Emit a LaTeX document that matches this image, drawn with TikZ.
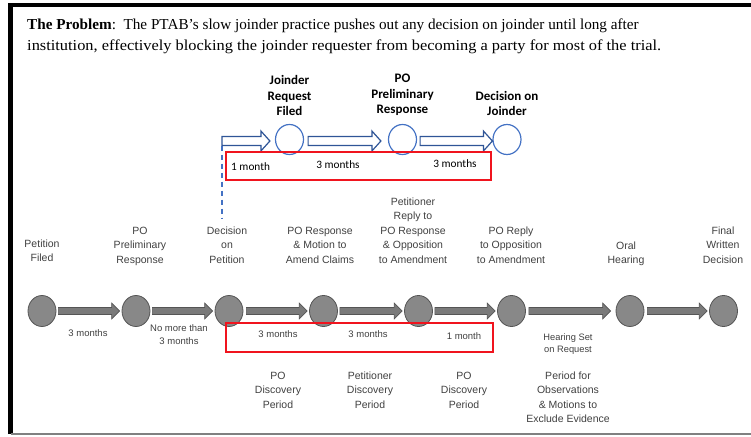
\documentclass[tikz,border=0pt]{standalone}
\usepackage{fontspec}
\setmainfont{Liberation Serif}
\newfontfamily\arialf{Liberation Sans}
\newfontfamily\calibrif{Carlito}
\usepackage{graphicx}
\usepackage{tikz}
\usetikzlibrary{shapes.geometric,calc,positioning}

\definecolor{lblgray}{RGB}{64,64,64}
\definecolor{evtfill}{RGB}{136,136,136}
\definecolor{evtedge}{RGB}{85,85,85}
\definecolor{arrfill}{RGB}{122,122,122}
\definecolor{jblue}{RGB}{47,85,151}
\definecolor{jcirc}{RGB}{68,114,196}
\definecolor{boxred}{RGB}{240,20,30}

% block arrow: style, start, tip, shaft half, head half, head length
\newcommand{\blockarrow}[6]{%
  \draw[#1] let \p1=(#2), \p2=(#3) in
    (\x1,\y1+#4) -- (\x2-#6,\y1+#4) -- (\x2-#6,\y1+#5) -- (\x2,\y1)
    -- (\x2-#6,\y1-#5) -- (\x2-#6,\y1-#4) -- (\x1,\y1-#4) -- cycle;}

\begin{document}
\begin{tikzpicture}[x=1pt, y=-1pt,
  ttl/.style = {inner sep=0pt, anchor=base west, font=\fontsize{15.2}{20}\selectfont},
  evt/.style = {ellipse, draw=evtedge, fill=evtfill, line width=0.8pt, minimum width=28pt, minimum height=31pt, inner sep=0pt},
  jnt/.style = {ellipse, draw=jcirc, fill=white, line width=1.2pt, minimum width=28pt, minimum height=30pt, inner sep=0pt},
  garr/.style = {draw=evtedge, fill=arrfill, line width=0.6pt},
  barr/.style = {draw=jblue, fill=white, line width=1.2pt},
  lbl/.style = {align=center, inner sep=0pt, anchor=north, text=lblgray, font=\arialf\fontsize{10.5}{14.5}\selectfont},
  per/.style = {lbl, font=\arialf\fontsize{9.5}{13}\selectfont},
  jlbl/.style = {align=center, inner sep=0pt, font=\calibrif\bfseries\fontsize{13}{15.5}\selectfont},
  mon/.style = {inner sep=0pt, anchor=base, font=\calibrif\fontsize{11.3}{13}\selectfont},
  redbox/.style = {draw=boxred, line width=2pt}]
  \useasboundingbox (0,0) rectangle (751,436);

  % frame
  \draw[line width=4.5pt] (10.5,434) -- (10.5,5) -- (760,5);
  \draw[gray, line width=1.5pt] (10.5,434) -- (760,434);

  % title
  \node[ttl] (ttl1) at (27,30) {\textbf{The Problem}:\ \ The PTAB’s slow joinder practice pushes out any decision on joinder until long after};
  \node[ttl] (ttl2) at (27,50) {\scalebox{1.078}[1]{institution, effectively blocking the joinder requester from becoming a party for most of the trial.}};

  % joinder track
  \node[jnt] (jrf) at (289.5,139.5) {};
  \node[jnt] (jppr) at (402.5,139.5) {};
  \node[jnt] (doj) at (507,139.5) {};
  \node[jlbl, above=8pt of jrf] (jrfl) {Joinder\\Request\\Filed};
  \node[jlbl, above=8pt of jppr] (jpprl) {PO\\Preliminary\\Response};
  \node[jlbl, above=8pt of doj] (dojl) {Decision on\\Joinder};
  \coordinate (jstart) at (222,141);
  \coordinate (dtop) at (222,145.5);
  \coordinate (dbot) at (222,218);
  \draw[jcirc, line width=1.2pt, dash pattern=on 5pt off 4pt] (dtop) -- (dbot);
  \blockarrow{barr}{jstart}{$(jrf.west)+(-5,0)$}{4.5pt}{10pt}{9pt}
  \blockarrow{barr}{$(jrf.east)+(4,1.5)$}{$(jppr.west)+(-7,0)$}{4.5pt}{10pt}{9pt}
  \blockarrow{barr}{$(jppr.east)+(3,1.5)$}{$(doj.west)+(0,0)$}{4.5pt}{10pt}{9pt}
  \draw[redbox] (226,152) rectangle (491,180);
  \node[mon, anchor=base west] (m1) at (231,170.5) {1 month};
  \node[mon] (m2) at (338,168.5) {3 months};
  \node[mon] (m3) at (455,167.5) {3 months};

  % trial track
  \node[evt] (pf) at (42,311) {};
  \node[evt] (ppr) at (136,311) {};
  \node[evt] (dop) at (229,311) {};
  \node[evt] (por) at (323.5,311) {};
  \node[evt] (prp) at (418.5,311) {};
  \node[evt] (porep) at (511.5,311) {};
  \node[evt] (oh) at (630,311) {};
  \node[evt] (fwd) at (723.5,311) {};
  \blockarrow{garr}{$(pf.east)+(2,0)$}{$(ppr.west)+(-2,0)$}{3.5pt}{8pt}{8pt}
  \blockarrow{garr}{$(ppr.east)+(2,0)$}{$(dop.west)+(-2,0)$}{3.5pt}{8pt}{8pt}
  \blockarrow{garr}{$(dop.east)+(3,0)$}{$(por.west)+(-2,0)$}{3.5pt}{8pt}{8pt}
  \blockarrow{garr}{$(por.east)+(2,0)$}{$(prp.west)+(-2,0)$}{3.5pt}{8pt}{8pt}
  \blockarrow{garr}{$(prp.east)+(2,0)$}{$(porep.west)+(-2,0)$}{3.5pt}{8pt}{8pt}
  \blockarrow{garr}{$(porep.east)+(3,0)$}{$(oh.west)+(-5,0)$}{3.5pt}{8pt}{8pt}
  \blockarrow{garr}{$(oh.east)+(3,0)$}{$(fwd.west)+(-2,0)$}{3.5pt}{8pt}{8pt}

  \node[lbl] (pfl) at (42,239.5) {Petition\\Filed};
  \node[lbl] (pprl) at (140,226.5) {PO\\Preliminary\\Response};
  \node[lbl] (dopl) at (227,226.5) {Decision\\on\\Petition};
  \node[lbl] (porl) at (320,226.5) {PO Response\\\& Motion to\\Amend Claims};
  \node[lbl] (prpl) at (413,197.5) {Petitioner\\Reply to\\PO Response\\\& Opposition\\to Amendment};
  \node[lbl] (porepl) at (511,226.5) {PO Reply\\to Opposition\\to Amendment};
  \node[lbl] (ohl) at (626,241.5) {Oral\\Hearing};
  \node[lbl] (fwdl) at (723,226.5) {Final\\Written\\Decision};

  \draw[redbox] (226,323) rectangle (493,352);
  \node[per, anchor=base] (p1) at (88,336.5) {3 months};
  \node[per] (p2) at (179,324.7) {No more than\\3 months};
  \node[per, anchor=base] (p3) at (278,337.5) {3 months};
  \node[per, anchor=base] (p4) at (368,337.5) {3 months};
  \node[per, anchor=base] (p5) at (464,339) {1 month};
  \node[per, font=\arialf\fontsize{9.3}{11.5}\selectfont] (p6) at (568,333.8) {Hearing Set\\on Request};

  \node[lbl] (d1) at (278,371.5) {PO\\Discovery\\Period};
  \node[lbl] (d2) at (370,371.5) {Petitioner\\Discovery\\Period};
  \node[lbl] (d3) at (464,371.5) {PO\\Discovery\\Period};
  \node[lbl] (d4) at (568,371.5) {Period for\\Observations\\\& Motions to\\Exclude Evidence};
\end{tikzpicture}
\end{document}
